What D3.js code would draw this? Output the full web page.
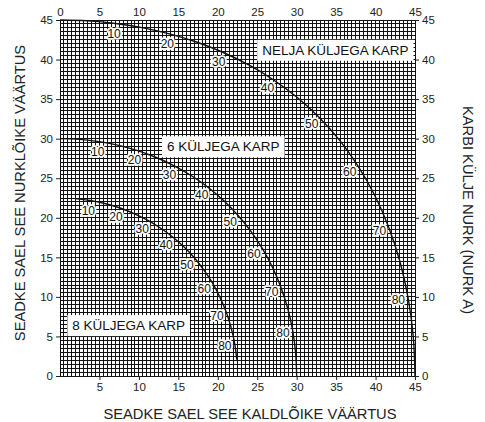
<!DOCTYPE html>
<html>
<head>
<meta charset="utf-8">
<script src="https://cdn.jsdelivr.net/npm/d3@7"></script>
<style>
  body { margin: 0; background: #fff; }
  svg text { font-family: "Liberation Sans", Arial, Helvetica, sans-serif; }
</style>
</head>
<body>
<div id="chart"></div>
<script>
// box side angle A (degrees) for each point on the curves
var anglesFull = [0, 5, 10, 15, 20, 25, 30, 35, 40, 45, 50, 55, 60, 65, 70, 75, 80, 85, 90];
var anglesEight = [5, 10, 15, 20, 25, 30, 35, 40, 45, 50, 55, 60, 65, 70, 75, 80, 85];

// bevel (kaldlõige) and miter (nurklõige) values
var bevel4 = [0, 3.53, 7.05, 10.55, 14.0, 17.39, 20.7, 23.93, 27.03, 30.0, 32.8, 35.4, 37.76, 39.86, 41.64, 43.08, 44.13, 44.78, 45];
var miter4 = [45, 44.89, 44.56, 44.01, 43.22, 42.19, 40.89, 39.32, 37.45, 35.26, 32.74, 29.84, 26.57, 22.91, 18.88, 14.51, 9.85, 4.98, 0];

var bevel6 = [0, 2.5, 4.98, 7.44, 9.85, 12.2, 14.48, 16.67, 18.75, 20.7, 22.52, 24.18, 25.66, 26.95, 28.02, 28.88, 29.5, 29.87, 30];
var miter6 = [30, 29.91, 29.62, 29.15, 28.48, 27.62, 26.57, 25.31, 23.86, 22.21, 20.36, 18.32, 16.1, 13.71, 11.17, 8.5, 5.73, 2.88, 0];

var bevel8 = [1.91, 3.81, 5.68, 7.52, 9.31, 11.03, 12.68, 14.24, 15.7, 17.05, 18.27, 19.36, 20.29, 21.08, 21.69, 22.14, 22.41];
var miter8 = [22.42, 22.19, 21.81, 21.27, 20.57, 19.73, 18.74, 17.6, 16.33, 14.91, 13.36, 11.7, 9.93, 8.06, 6.12, 4.11, 2.07];

var labelAngles = [10, 20, 30, 40, 50, 60, 70, 80];

var boxNames = ["NELJA KÜLJEGA KARP", "6 KÜLJEGA KARP", "8 KÜLJEGA KARP"];
var boxBevel = [34.9, 20.7, 8.7];
var boxMiter = [41.2, 29.0, 6.4];

var tickValues = [0, 5, 10, 15, 20, 25, 30, 35, 40, 45];
var bottomTicks = [5, 10, 15, 20, 25, 30, 35, 40, 45];

var width = 485, height = 422;
var margin = {top: 20, right: 70, bottom: 46, left: 60};
var innerW = width - margin.left - margin.right;
var innerH = height - margin.top - margin.bottom;

var svg = d3.select("#chart").append("svg")
    .attr("width", width)
    .attr("height", height);

var g = svg.append("g")
    .attr("transform", "translate(" + margin.left + "," + margin.top + ")");

var x = d3.scaleLinear().domain([0, 45]).range([0, innerW]);
var y = d3.scaleLinear().domain([0, 45]).range([innerH, 0]);

// fine grid every half unit
var gridVals = d3.range(0, 45.01, 0.5);
var grid = g.append("g").attr("shape-rendering", "crispEdges");
grid.selectAll("line.v")
    .data(gridVals)
    .enter().append("line")
    .attr("class", "v")
    .attr("x1", function(d) { return x(d); })
    .attr("x2", function(d) { return x(d); })
    .attr("y1", y(0))
    .attr("y2", y(45))
    .attr("stroke", "#111")
    .attr("stroke-width", 1);

grid.selectAll("line.h")
    .data(gridVals)
    .enter().append("line")
    .attr("class", "h")
    .attr("y1", function(d) { return y(d); })
    .attr("y2", function(d) { return y(d); })
    .attr("x1", x(0))
    .attr("x2", x(45))
    .attr("stroke", "#111")
    .attr("stroke-width", 1);

// axes
function tidy(a) {
  a.select(".domain").remove();
  a.selectAll(".tick line").attr("stroke", "#222");
  a.selectAll(".tick text").style("font-size", "11.5px").attr("fill", "#222");
}

g.append("g")
    .call(d3.axisLeft(y).tickValues(tickValues).tickSize(4).tickPadding(3))
    .call(tidy);

g.append("g")
    .attr("transform", "translate(" + innerW + ",0)")
    .call(d3.axisRight(y).tickValues(tickValues).tickSize(4).tickPadding(3))
    .call(tidy);

g.append("g")
    .call(d3.axisTop(x).tickValues(tickValues).tickSize(0).tickPadding(4))
    .call(tidy);

g.append("g")
    .attr("transform", "translate(0," + innerH + ")")
    .call(d3.axisBottom(x).tickValues(bottomTicks).tickSize(4).tickPadding(3))
    .call(tidy);

// curves
var line = d3.line()
    .x(function(d) { return x(d[0]); })
    .y(function(d) { return y(d[1]); })
    .curve(d3.curveCatmullRom);

var curves = [
  {angles: anglesFull, bevel: bevel4, miter: miter4},
  {angles: anglesFull, bevel: bevel6, miter: miter6},
  {angles: anglesEight, bevel: bevel8, miter: miter8}
];

curves.forEach(function(c) {
  var pts = c.bevel.map(function(b, i) { return [b, c.miter[i]]; });
  g.append("path")
      .datum(pts)
      .attr("fill", "none")
      .attr("stroke", "#111")
      .attr("stroke-width", 1.4)
      .attr("d", line);

  labelAngles.forEach(function(a) {
    var i = c.angles.indexOf(a);
    var px = x(c.bevel[i]), py = y(c.miter[i]);
    var dx = x(0) - px, dy = y(0) - py;
    var len = Math.sqrt(dx * dx + dy * dy);
    var off = 10;
    var lx = px + dx / len * off, ly = py + dy / len * off;
    // white halo, then the number on top
    g.append("text")
        .attr("x", lx).attr("y", ly)
        .attr("dy", "0.35em")
        .attr("text-anchor", "middle")
        .style("font-size", "12px")
        .attr("fill", "#fff")
        .attr("stroke", "#fff")
        .attr("stroke-width", 3.5)
        .attr("stroke-linejoin", "round")
        .text(a);
    g.append("text")
        .attr("x", lx).attr("y", ly)
        .attr("dy", "0.35em")
        .attr("text-anchor", "middle")
        .style("font-size", "12px")
        .attr("fill", "#111")
        .text(a);
  });
});

// box type labels
boxNames.forEach(function(name, i) {
  var t = g.append("text")
      .attr("x", x(boxBevel[i]))
      .attr("y", y(boxMiter[i]))
      .attr("dy", "0.35em")
      .attr("text-anchor", "middle")
      .attr("fill", "#111")
      .style("font-size", "13.5px")
      .text(name);
  var bb = t.node().getBBox();
  g.insert("rect", function() { return t.node(); })
      .attr("x", bb.x - 5)
      .attr("y", bb.y - 3)
      .attr("width", bb.width + 10)
      .attr("height", bb.height + 6)
      .attr("fill", "#fff");
});

// axis titles
svg.append("text")
    .attr("x", 250)
    .attr("y", 419)
    .attr("text-anchor", "middle")
    .attr("fill", "#222")
    .style("font-size", "14.7px")
    .text("SEADKE SAEL SEE KALDLÕIKE VÄÄRTUS");

svg.append("text")
    .attr("transform", "translate(25,193) rotate(-90)")
    .attr("text-anchor", "middle")
    .attr("fill", "#222")
    .style("font-size", "14.7px")
    .text("SEADKE SAEL SEE NURKLÕIKE VÄÄRTUS");

svg.append("text")
    .attr("transform", "translate(463,210) rotate(90)")
    .attr("text-anchor", "middle")
    .attr("fill", "#222")
    .style("font-size", "14.7px")
    .text("KARBI KÜLJE NURK (NURK A)");
</script>
</body>
</html>
